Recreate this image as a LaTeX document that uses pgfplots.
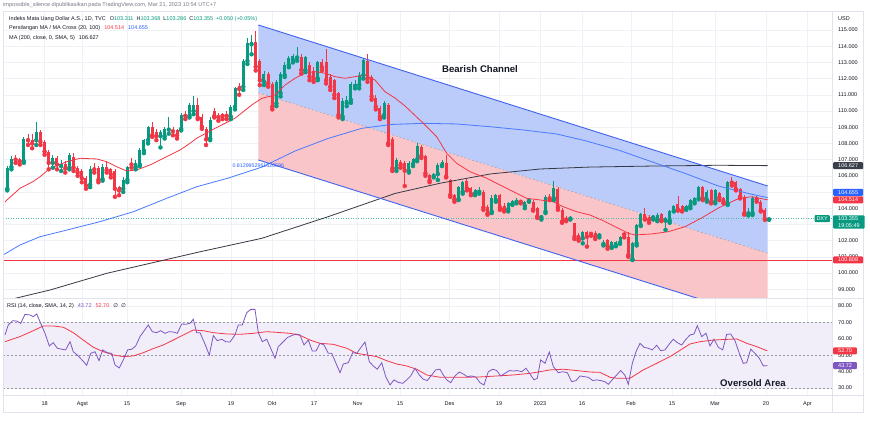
\documentclass[border=0pt]{standalone}
\usepackage{pgfplots}
\pgfplotsset{compat=1.18}
\usepackage{pgfplotstable}
\usepackage{fontspec}
\setmainfont{Liberation Sans}
\newfontfamily\dejavu{DejaVu Sans}
\definecolor{tvgreen}{HTML}{089981}
\definecolor{tvred}{HTML}{F23645}
\definecolor{tvblue}{HTML}{2962FF}
\definecolor{ma200}{HTML}{363A45}
\definecolor{gridc}{HTML}{EFF1F6}
\definecolor{chanfill}{HTML}{BBCBFA}
\definecolor{pinkfill}{HTML}{F9C5C9}
\definecolor{chanline}{HTML}{3F62EE}
\definecolor{midline}{HTML}{A7A3B3}
\definecolor{rsiband}{HTML}{F2EEF9}
\definecolor{rsipurple}{HTML}{7E57C2}
\definecolor{txt}{HTML}{131722}
\definecolor{txtgrey}{HTML}{787B86}
\definecolor{framec}{HTML}{E0E3EB}
\definecolor{dashc}{HTML}{9598A1}
\definecolor{darkbox}{HTML}{3B3F4A}
\newcommand{\tvfs}{\fontsize{5.5}{6.7}\selectfont}

% candles: i = bar index (0 = first bar), o h l c
\pgfplotstableread{
i o h l c
0 105.20 106.60 105.10 106.50
1 106.55 107.20 106.40 107.05
4 106.90 108.40 106.80 108.30
7 108.20 109.30 107.90 108.70
11 106.80 107.30 106.50 107.10
13 106.60 107.00 106.30 106.75
15 106.50 107.40 106.40 107.30
20 105.45 106.60 105.30 106.40
23 105.80 106.70 105.70 106.55
28 105.20 105.90 105.00 105.75
29 105.75 106.60 105.60 106.55
31 106.55 107.00 106.40 106.80
32 106.70 107.70 106.60 107.60
33 107.55 108.30 107.40 108.20
34 108.20 109.10 108.00 109.00
37 108.45 108.80 107.75 108.70
38 108.45 109.00 108.30 108.90
39 108.85 109.60 108.60 108.92
42 108.90 109.90 108.80 109.75
44 109.70 110.50 109.60 110.35
45 110.00 110.90 109.80 110.40
49 108.30 109.60 108.20 109.45
54 109.65 110.40 109.50 110.27
55 110.27 111.50 110.10 111.40
57 111.50 113.20 111.30 113.09
58 113.09 114.50 112.90 114.18
59 114.12 114.70 113.50 114.28
62 111.81 112.50 111.60 112.26
65 110.47 111.90 110.30 111.81
66 111.10 112.40 110.90 112.30
67 112.22 113.00 112.10 112.84
68 112.84 113.40 112.70 113.29
69 113.15 113.50 113.00 113.41
70 113.30 113.97 113.10 113.40
72 112.53 113.40 112.40 113.35
75 112.00 113.10 111.90 113.00
81 109.65 110.80 109.50 110.62
82 110.50 110.90 110.30 110.67
83 110.68 111.80 110.50 111.65
84 111.55 111.90 111.40 111.65
85 111.60 112.40 111.40 112.22
86 112.22 113.30 112.00 113.15
91 109.75 110.60 109.60 110.47
94 106.46 107.10 106.30 106.98
97 106.30 106.90 106.20 106.77
98 106.73 107.10 106.60 107.02
99 107.02 108.05 106.90 107.84
103 105.99 106.20 105.90 106.11
104 106.11 106.80 105.74 106.67
105 106.67 107.00 106.60 106.87
109 104.55 105.40 104.50 105.33
110 105.02 105.70 104.90 105.64
113 104.92 105.20 104.80 105.12
114 105.02 105.30 104.90 105.12
117 103.79 104.80 103.70 104.65
118 104.51 104.90 104.40 104.82
121 103.93 104.40 103.80 104.30
122 104.26 104.50 104.20 104.45
123 104.40 104.60 104.30 104.46
125 104.14 104.45 104.00 104.36
126 104.45 104.60 104.40 104.51
129 103.45 103.60 103.30 103.52
130 103.79 104.80 103.70 104.71
132 104.61 105.70 104.50 105.23
136 103.36 103.50 103.30 103.42
139 102.14 102.60 101.83 102.55
143 102.32 102.45 102.20 102.37
144 101.79 102.04 101.70 101.93
146 101.63 102.00 101.55 101.93
147 101.73 102.00 101.65 101.93
148 101.87 102.30 101.80 102.24
151 100.84 101.90 100.80 101.83
152 101.83 103.00 101.70 102.96
153 102.96 103.70 102.90 103.62
156 103.43 103.60 103.30 103.50
157 103.31 103.70 103.20 103.58
159 103.23 103.45 102.66 103.38
160 103.23 103.90 103.10 103.85
161 103.85 104.20 103.80 104.14
164 104.00 104.20 103.90 104.14
165 104.14 104.55 104.00 104.51
166 104.40 104.70 104.30 104.65
167 104.61 105.35 104.55 105.29
169 104.51 105.10 104.40 105.02
171 104.40 105.20 104.30 105.12
174 104.26 105.70 104.20 105.64
179 103.68 104.00 103.55 103.75
180 103.70 104.75 103.58 104.65
184 103.311 103.368 103.286 103.355
}\upc

\pgfplotstableread{
i o h l c
2 107.10 107.30 106.80 107.00
3 107.00 107.10 106.70 106.90
5 108.30 108.60 107.90 108.20
6 108.20 108.60 107.70 108.00
8 108.70 108.80 107.90 108.10
9 108.10 108.20 107.30 107.50
10 107.50 107.60 106.40 106.80
12 107.10 107.20 106.40 106.70
14 106.70 106.90 106.20 106.45
16 107.15 107.40 106.30 106.50
17 106.50 106.60 106.00 106.20
18 106.30 106.40 105.60 105.85
19 105.85 106.00 105.20 105.40
21 106.50 106.80 106.20 106.40
22 106.50 106.60 105.60 105.75
24 106.55 106.90 106.20 106.35
25 106.40 106.50 105.90 106.10
26 106.30 106.40 104.70 105.20
27 105.30 105.40 104.80 105.10
30 106.80 107.10 106.50 106.70
35 109.00 109.30 108.40 108.50
36 108.70 108.90 108.20 108.45
40 108.85 109.00 108.50 108.75
41 108.80 108.90 108.30 108.50
43 109.80 110.00 109.50 109.70
46 110.37 110.80 109.50 109.59
47 109.65 109.80 108.90 109.03
48 108.90 109.00 107.90 108.25
50 110.00 110.20 109.60 109.70
51 109.70 109.90 109.40 109.62
52 109.80 109.90 109.50 109.70
53 109.80 110.00 109.50 109.70
56 111.54 111.70 111.00 111.36
60 114.28 114.95 112.50 112.73
61 113.09 113.20 111.60 111.90
63 112.26 112.40 111.50 111.70
64 111.65 111.80 110.10 110.27
71 113.35 113.50 112.30 112.53
73 112.84 113.00 111.90 112.12
74 112.50 112.70 111.80 112.00
76 113.00 113.20 112.50 112.70
77 113.00 113.80 111.70 111.90
78 112.12 112.30 111.30 111.50
79 111.90 112.00 110.80 111.00
80 111.09 111.20 109.60 109.75
87 113.09 113.50 111.80 112.00
88 112.12 112.20 110.70 110.90
89 110.82 111.00 110.10 110.27
90 110.17 110.30 109.50 109.65
92 110.37 110.50 107.90 108.00
93 108.25 108.40 106.30 106.46
95 106.87 107.00 106.50 106.67
96 106.77 106.90 105.37 106.32
100 107.76 107.90 107.10 107.22
101 107.22 107.30 106.00 106.15
102 106.05 106.10 105.60 105.70
106 106.77 107.29 105.90 105.95
107 105.74 105.80 104.70 104.82
108 104.82 104.90 104.40 104.55
111 105.70 105.80 105.10 105.23
112 105.23 105.30 104.80 104.88
115 105.02 105.10 103.90 104.05
116 104.10 104.20 103.60 103.68
119 104.82 104.90 103.90 104.05
120 104.14 104.30 103.80 103.93
124 104.46 104.50 104.30 104.40
127 104.40 104.50 103.85 103.93
128 103.99 104.10 103.40 103.48
131 104.71 104.90 104.50 104.61
133 105.17 105.30 103.90 104.05
134 103.89 104.00 103.10 103.17
135 103.38 103.50 103.20 103.30
137 103.07 103.10 102.10 102.24
138 102.35 102.45 102.00 102.14
140 102.55 102.60 101.63 102.24
141 102.47 102.55 102.30 102.42
142 102.50 102.60 102.10 102.24
145 102.04 102.10 101.50 101.63
149 102.45 102.55 102.20 102.38
150 102.24 102.55 101.00 101.11
154 103.62 103.99 103.30 103.38
155 103.48 103.60 103.10 103.27
158 103.62 103.70 103.20 103.31
162 104.24 104.76 103.85 103.93
163 104.14 104.20 103.80 103.85
168 105.29 105.35 104.50 104.61
170 105.12 105.20 104.30 104.40
172 104.92 105.00 104.50 104.65
173 104.65 104.70 104.30 104.40
175 105.64 105.91 105.40 105.58
176 105.60 105.70 105.10 105.17
177 105.17 105.25 104.60 104.71
178 104.71 104.80 103.60 103.68
181 104.65 104.76 104.40 104.55
182 104.40 104.50 103.80 103.89
183 103.89 104.00 103.28 103.33
}\downc

% moving averages, x in chart pixels
\pgfplotstableread{
px v
5 104.40
20 105.23
33 105.64
40 105.94
50 106.46
66.7 106.87
80 107.08
96.7 107.04
106.7 106.87
116.7 106.56
126.7 106.30
136.7 106.36
150 106.67
166.7 107.18
180 107.59
190 108.01
197 108.33
215 108.93
235 109.55
251.7 110.37
261.7 110.78
275 110.99
285 111.60
295 112.02
305 112.33
315 112.43
325 112.33
335 112.12
345 112.02
355 112.12
365 112.22
375 111.91
385 111.19
395 110.80
405 110.31
423 109.26
436.7 108.41
446.7 107.39
456.7 106.77
470 106.25
486.7 105.85
500 105.43
513.3 105.02
526.7 104.61
540 104.51
553.3 104.40
563.3 104.09
576.7 103.78
590 103.58
601.7 103.27
618.3 102.76
628.3 102.45
635 102.35
651.7 102.41
668.3 102.55
685 102.86
701.7 103.40
718.3 104.01
728.3 104.30
738.3 104.59
751.7 104.71
767.7 104.514
}\maA

\pgfplotstableread{
px v
3 101.11
20 101.73
40 102.24
66.7 102.65
100 103.17
133.3 103.78
166.7 104.61
197 105.33
228.3 105.86
262 106.54
295 107.53
328.3 108.31
361.7 108.93
392 109.17
423.3 109.24
456.7 109.20
490 109.03
523.3 108.83
556.7 108.58
585 108.17
618.3 107.59
651.7 106.87
685 106.15
718.3 105.37
751.7 104.86
767.7 104.655
}\maB

\pgfplotstableread{
px v
3 98.20
16.7 98.46
50 98.95
106.7 99.98
200 101.31
261.7 102.14
328.3 103.48
395 104.91
440 105.54
490 106.11
540 106.42
590 106.54
650 106.60
718 106.65
767.7 106.627
}\maC

\pgfplotstableread{
px r
5.0 62.4
8.3 68.5
12.7 71.1
16.7 70.9
20.7 69.5
25.0 75.0
30.0 74.6
33.3 73.6
36.7 75.2
40.0 70.5
45.0 63.4
49.3 55.7
53.3 57.7
57.3 54.3
61.7 53.7
65.7 53.3
70.0 58.3
73.3 52.2
78.3 49.6
82.7 46.7
86.7 43.9
90.7 51.2
95.0 52.2
99.0 46.7
102.7 53.3
107.3 51.6
111.7 51.2
115.0 44.1
119.3 42.3
123.3 47.2
127.7 53.3
131.7 53.7
135.7 55.7
140.0 61.4
144.0 64.8
148.3 68.5
152.3 64.4
156.7 63.8
160.7 65.0
165.0 63.4
169.0 64.4
173.3 64.2
177.3 63.4
181.7 69.1
185.7 68.9
190.0 69.5
193.3 72.0
196.7 63.8
200.0 63.8
204.0 58.3
209.3 50.2
213.3 62.0
217.3 58.9
221.7 59.8
225.7 58.3
230.0 58.1
235.0 62.4
238.3 68.5
242.3 68.5
246.7 76.0
250.7 78.0
255.0 78.0
258.3 63.8
262.3 58.3
266.7 59.8
270.7 54.3
275.0 48.2
278.3 55.3
283.3 58.3
287.3 60.8
291.7 62.0
295.7 63.0
300.0 62.4
304.0 56.3
308.3 59.3
312.3 52.6
316.0 52.6
320.0 57.3
324.0 56.3
328.3 51.2
331.7 51.2
336.0 45.1
340.0 39.4
343.3 44.7
348.3 45.5
352.7 51.6
356.7 51.2
361.0 54.9
365.0 58.1
369.3 46.1
373.3 43.5
377.3 41.5
381.7 45.5
385.7 37.0
390.0 31.9
394.0 35.0
398.3 33.5
402.7 32.9
406.7 35.0
410.7 37.4
415.0 42.1
419.3 38.0
423.3 35.4
427.3 34.6
431.7 38.0
435.7 41.1
440.0 41.5
442.7 38.6
446.7 35.0
450.7 33.3
455.0 37.4
459.3 39.8
463.3 38.6
467.3 37.0
471.7 37.4
476.0 36.6
480.0 33.3
484.0 31.9
488.3 40.0
492.7 41.5
496.7 40.7
500.7 37.4
505.0 39.0
509.3 40.7
513.3 40.4
517.3 40.7
521.7 40.0
526.0 42.1
530.0 38.6
534.0 35.0
537.3 36.0
540.7 47.2
545.0 45.1
549.3 52.0
553.3 43.1
558.3 39.4
562.7 40.0
567.3 39.4
571.7 33.9
576.0 34.6
580.0 37.4
584.0 37.0
588.3 36.6
592.7 34.6
596.7 35.0
600.7 34.6
605.0 33.9
608.3 32.3
612.7 35.4
616.7 38.0
620.7 40.7
625.0 37.8
628.3 32.3
632.3 45.1
636.0 52.2
640.0 57.3
644.0 54.9
648.3 54.3
652.3 53.3
656.7 56.1
660.7 52.8
665.0 53.3
669.3 56.9
673.3 59.8
677.3 57.7
681.7 56.3
686.0 59.8
690.0 62.4
694.0 63.0
697.3 68.1
701.7 61.4
706.0 63.4
710.0 55.7
714.0 59.8
718.3 54.9
722.7 53.3
726.7 62.8
730.7 63.0
735.0 58.9
739.3 51.2
743.3 45.1
746.7 45.5
750.7 53.7
755.0 51.2
759.3 48.2
763.3 43.5
767.3 43.72
}\rsi

\pgfplotstableread{
px r
5.0 58.3
20.0 61.4
33.3 65.0
43.3 67.9
53.3 67.9
63.3 67.1
73.3 63.8
83.3 59.3
93.3 54.9
103.3 52.2
113.3 50.2
123.3 49.2
133.3 49.6
143.3 51.6
153.3 54.1
163.3 56.3
173.3 59.3
183.3 62.4
193.3 65.4
203.3 65.0
213.3 63.8
226.7 63.0
240.0 62.8
253.3 63.4
266.7 64.4
276.7 64.0
290.0 63.4
300.0 62.2
310.0 59.3
320.0 57.3
333.3 56.7
346.7 54.3
356.7 51.2
366.7 50.2
376.7 49.2
386.7 46.7
396.7 44.7
406.7 43.5
416.7 41.5
426.7 38.0
440.0 36.6
463.3 36.6
480.0 36.8
496.7 37.4
513.3 38.0
530.0 39.0
540.0 40.0
550.0 41.1
563.3 41.5
576.7 40.7
590.0 39.8
600.0 39.6
610.0 36.6
616.7 36.0
630.0 36.0
643.3 41.1
656.7 45.1
670.0 49.2
683.3 54.3
690.0 56.9
700.0 58.3
713.3 59.3
730.0 59.8
736.7 60.0
746.7 57.3
756.7 55.3
767.3 52.70
}\rsima

\pgfplotsset{
  tvaxis/.style={
    scale only axis,
    xmin=3, xmax=832,
    axis line style={draw=none},
    major tick length=0pt,
    tick style={draw=none},
    xtick={44.6,82.5,127,181,231,272,314,357.5,400,449.5,499,540,582,631,672,715,766,807.5},
    grid=major,
    major grid style={gridc, line width=0.5pt},
    yticklabel pos=right,
    yticklabel style={anchor=west, inner sep=0pt, xshift=6pt, font=\tvfs, text=txt},
  },
  wick/.style={only marks, mark=none, forget plot, error bars/.cd, y dir=plus, y explicit, error mark=none, error bar style={line width=0.75pt, #1}},
  body/.style={only marks, mark=none, forget plot, error bars/.cd, y dir=plus, y explicit, error mark=none, error bar style={line width=3pt, #1}},
}
\tikzset{
  pbox/.style={anchor=west, xshift=1pt, fill=#1, text=white, font=\tvfs, inner xsep=5pt, inner ysep=1.4pt, text height=4pt, text depth=0.3pt, rounded corners=1pt},
}

\begin{document}
\begin{tikzpicture}
\fill[white] (0pt,0pt) rectangle (870pt,426pt);

% ---------------- price pane ----------------
\begin{axis}[tvaxis, at={(3pt,128pt)}, anchor=south west, width=829pt, height=287pt,
  ymin=98.457, ymax=116.173,
  xticklabels={},
  ytick={99,100,101,102,103,104,105,106,107,108,109,110,111,112,113,114,115},
  yticklabels={99.000,100.000,101.000,102.000,103.000,104.000,105.000,106.000,107.000,108.000,109.000,110.000,111.000,112.000,113.000,114.000,115.000},
]
% channel
\addplot[fill=chanfill, draw=none, forget plot] coordinates {(258.3,115.31) (767.7,105.37) (767.7,101.22) (258.3,111.13)} -- cycle;
\addplot[fill=pinkfill, draw=none, forget plot] coordinates {(258.3,111.13) (767.7,101.22) (767.7,97.07) (258.3,106.98)} -- cycle;
\addplot[midline, line width=0.6pt, dash pattern=on 2pt off 2pt, forget plot] coordinates {(258.3,111.13) (767.7,101.22)};
% horizontal lines
\addplot[tvred, line width=0.8pt, forget plot] coordinates {(3,100.808) (832,100.808)};
\addplot[tvgreen!70, line width=0.5pt, dash pattern=on 1pt off 1.5pt, forget plot] coordinates {(3,103.355) (832,103.355)};
% candles
\addplot[tvgreen, wick=tvgreen] table[x expr=7.3+4.14*\thisrow{i}, y=l, y error expr=\thisrow{h}-\thisrow{l}] {\upc};
\addplot[tvgreen, body=tvgreen] table[x expr=7.3+4.14*\thisrow{i}, y=o, y error expr=\thisrow{c}-\thisrow{o}] {\upc};
\addplot[tvred, wick=tvred] table[x expr=7.3+4.14*\thisrow{i}, y=l, y error expr=\thisrow{h}-\thisrow{l}] {\downc};
\addplot[tvred, body=tvred] table[x expr=7.3+4.14*\thisrow{i}, y=c, y error expr=\thisrow{o}-\thisrow{c}] {\downc};
% moving averages
\addplot[ma200, line width=0.8pt, forget plot] table[x=px, y=v] {\maC};
\addplot[tvblue!85!white, line width=0.8pt, forget plot] table[x=px, y=v] {\maB};
\addplot[tvred, line width=0.8pt, forget plot] table[x=px, y=v] {\maA};
% channel border lines
\addplot[chanline, line width=0.9pt, forget plot] coordinates {(258.3,115.31) (767.7,105.37)};
\addplot[chanline, line width=0.9pt, forget plot] coordinates {(258.3,106.98) (767.7,97.07)};
% annotations
\node[font=\bfseries\fontsize{9.6}{11}\selectfont, text=txt] at (axis cs:480,112.59) {Bearish Channel};
\node[font=\fontsize{5.3}{6}\selectfont, text=tvblue] at (axis cs:258.3,106.62) {0.8129952961620596};
\coordinate (p106) at (axis cs:832,106.627);
\coordinate (pblue) at (axis cs:832,104.98);
\coordinate (pred) at (axis cs:832,104.514);
\coordinate (plast) at (axis cs:832,103.355);
\coordinate (phl) at (axis cs:832,100.808);
\end{axis}

% ---------------- RSI pane ----------------
\begin{axis}[tvaxis, at={(3pt,31pt)}, anchor=south west, width=829pt, height=97pt,
  ymin=25.79, ymax=84.94,
  xticklabels={18,Agst,15,Sep,19,Okt,17,Nov,15,Des,19,2023,16,Feb,15,Mar,20,Apr},
  xticklabel style={anchor=base, inner sep=0pt, yshift=-10pt, font=\tvfs, text=txt},
  ytick={30,40,50,60,70,80},
  yticklabels={30.00,40.00,50.00,60.00,70.00,80.00},
]
\addplot[fill=rsiband, draw=none, forget plot] coordinates {(3,30) (832,30) (832,70) (3,70)} -- cycle;
\addplot[dashc, line width=0.5pt, dash pattern=on 2pt off 2pt, forget plot] coordinates {(3,70) (832,70)};
\addplot[dashc, line width=0.5pt, dash pattern=on 2pt off 2pt, forget plot] coordinates {(3,50) (832,50)};
\addplot[dashc, line width=0.5pt, dash pattern=on 2pt off 2pt, forget plot] coordinates {(3,30) (832,30)};
\addplot[tvred, line width=0.8pt, forget plot] table[x=px, y=r] {\rsima};
\addplot[rsipurple, line width=0.8pt, forget plot] table[x=px, y=r] {\rsi};
\node[font=\bfseries\fontsize{9.6}{11}\selectfont, text=txt] at (axis cs:753,32.9) {Oversold Area};
\coordinate (r52) at (axis cs:832,52.70);
\coordinate (r43) at (axis cs:832,43.72);
\end{axis}

% ---------------- frame ----------------
\draw[framec, line width=0.6pt] (3pt,14pt) rectangle (863pt,415pt);
\draw[framec, line width=0.6pt] (832pt,14pt) -- (832pt,415pt);
\draw[framec, line width=0.8pt] (3pt,128pt) -- (863pt,128pt);
\draw[framec, line width=0.6pt] (3pt,31pt) -- (863pt,31pt);

% ---------------- price scale labels ----------------
\node[anchor=west, font=\tvfs, text=txt, inner sep=0pt] at (838pt,407pt) {USD};
\node[pbox=darkbox] at (p106) {106.627};
\node[pbox=tvblue] at (pblue) {104.655};
\node[pbox=tvred] at (pred) {104.514};
\node[pbox=tvred] at (phl) {100.808};
\node[anchor=north west, xshift=1pt, yshift=3.6pt, fill=tvgreen, text=white, font=\tvfs, inner xsep=5pt, inner ysep=1.4pt, align=left, rounded corners=1pt] at (plast) {103.355\\19:05:49};
\node[anchor=east, xshift=-2pt, fill=tvgreen, text=white, font=\tvfs, inner xsep=2pt, inner ysep=1.4pt, text height=4pt, text depth=0.3pt, rounded corners=1pt] at (plast) {DXY};
\node[pbox=tvred] at (r52) {52.70};
\node[pbox=rsipurple] at (r43) {43.72};

% ---------------- legends ----------------
\node[anchor=west, inner sep=0pt, font=\fontsize{5.6}{6.5}\selectfont, text=txtgrey] at (3pt,421pt) {impossible\_silence dipublikasikan pada TradingView.com, Mar 21, 2023 10:54 UTC+7};
\node[anchor=west, inner sep=0pt, font=\tvfs, text=txt] at (9pt,407pt) {Indeks Mata Uang Dollar A.S., 1D, TVC\hspace{4pt}O\textcolor{tvgreen}{103.311}\hspace{3pt}H\textcolor{tvgreen}{103.368}\hspace{3pt}L\textcolor{tvgreen}{103.286}\hspace{3pt}C\textcolor{tvgreen}{103.355}\hspace{3pt}\textcolor{tvgreen}{+0.050 (+0.05\%)}};
\node[anchor=west, inner sep=0pt, font=\tvfs, text=txt] at (9pt,397.7pt) {Persilangan MA / MA Cross (20, 100)\hspace{4pt}\textcolor{tvred}{104.514}\hspace{4pt}\textcolor{tvblue}{104.655}};
\node[anchor=west, inner sep=0pt, font=\tvfs, text=txt] at (9pt,388.3pt) {MA (200, close, 0, SMA, 5)\hspace{4pt}106.627};
\node[anchor=west, inner sep=0pt, font=\tvfs, text=txt] at (7pt,120pt) {RSI (14, close, SMA, 14, 2)\hspace{4pt}\textcolor{rsipurple}{43.72}\hspace{4pt}\textcolor{tvred}{52.70}\hspace{4pt}{\dejavu ∅\hspace{3pt}∅}};

\pgfresetboundingbox
\path[use as bounding box] (0pt,0pt) rectangle (870pt,426pt);
\end{tikzpicture}
\end{document}
